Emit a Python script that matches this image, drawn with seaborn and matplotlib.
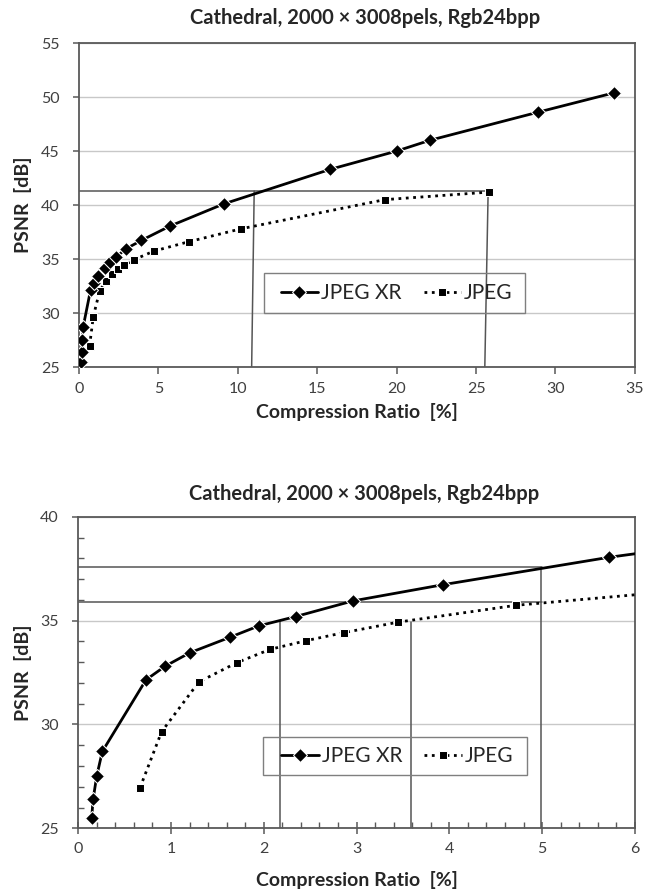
import matplotlib
matplotlib.use('Agg')
import matplotlib.pyplot as plt
import seaborn as sns
import pandas as pd
from matplotlib.patches import Rectangle
from matplotlib.ticker import MultipleLocator

# compression ratio [%] and PSNR [dB]
xr_ratio = [0.144, 0.16, 0.198, 0.259, 0.73, 0.934, 1.20, 1.635, 1.947, 2.346, 2.96,
            3.93, 5.72, 9.1, 15.8, 20.0, 22.1, 28.9, 33.7]
xr_psnr = [25.5, 26.4, 27.5, 28.7, 32.15, 32.8, 33.45, 34.2, 34.75, 35.2, 35.95,
           36.73, 38.05, 40.1, 43.3, 45.0, 46.0, 48.6, 50.4]
jpeg_ratio = [0.665, 0.898, 1.30, 1.71, 2.07, 2.46, 2.86, 3.45, 4.72, 6.9, 10.2, 19.25, 25.8]
jpeg_psnr = [26.95, 29.65, 32.05, 32.98, 33.62, 34.04, 34.42, 34.93, 35.74, 36.6, 37.8, 40.5, 41.2]

title = 'Cathedral, 2000 × 3008pels, Rgb24bpp'

# guide lines drawn on each chart: (x0, y0, x1, y1)
top_guides = [(0, 41.3, 25.76, 41.3), (11.03, 41.3, 10.87, 25), (25.76, 41.3, 25.55, 25)]
bottom_guides = [(0, 37.6, 5.0, 37.6), (0, 35.9, 5.0, 35.9),
                 (2.17, 35.0, 2.17, 25), (3.59, 34.95, 3.59, 25), (4.99, 37.6, 4.99, 25)]

xr = pd.DataFrame({'ratio': xr_ratio, 'psnr': xr_psnr})
jp = pd.DataFrame({'ratio': jpeg_ratio, 'psnr': jpeg_psnr})

sns.set_theme(style='white')
plt.rcParams['font.family'] = ['Lato', 'DejaVu Sans']

fig = plt.figure(figsize=(6.54, 8.9), dpi=100)
ax1 = fig.add_axes([0.1208, 0.5876, 0.850, 0.364])
ax2 = fig.add_axes([0.1197, 0.0693, 0.851, 0.350])

spine_col = '#595959'


def draw(ax, xlim, ylim, xstep, ystep, guides, leg_box, minor, xlabelpad, tpad):
    for g in guides:
        ax.plot([g[0], g[2]], [g[1], g[3]], color='#555555', lw=1.1, zorder=2)
    sns.lineplot(data=xr, x='ratio', y='psnr', ax=ax, sort=False, color='black',
                 marker='D', markersize=7, lw=2.0, label='JPEG XR', zorder=4)
    sns.lineplot(data=jp, x='ratio', y='psnr', ax=ax, sort=False, color='black',
                 marker='s', markersize=6, lw=2.0, ls=':', label='JPEG', zorder=3)
    ax.set_xlim(*xlim)
    ax.set_ylim(*ylim)
    ax.xaxis.set_major_locator(MultipleLocator(xstep))
    ax.yaxis.set_major_locator(MultipleLocator(ystep))
    ax.grid(axis='y', color='#c8c8c8', lw=1.0)
    ax.set_axisbelow(True)
    for s in ax.spines.values():
        s.set_color(spine_col)
        s.set_linewidth(1.3)
    ax.tick_params(axis='both', which='major', colors=spine_col, labelcolor='#404040',
                   labelsize=11.5, length=5, width=1.1, bottom=True, left=True)
    ax.tick_params(axis='y', which='major', length=4, pad=10)
    ax.tick_params(axis='x', which='major', pad=6)
    if minor:
        ax.xaxis.set_minor_locator(MultipleLocator(0.2))
        ax.yaxis.set_minor_locator(MultipleLocator(1))
        ax.tick_params(axis='both', which='minor', direction='in', length=4, width=1.0,
                       colors=spine_col, bottom=True, left=True)
        ax.tick_params(axis='x', which='major', direction='inout', length=8)
    ax.set_title(title, fontsize=14.5, fontweight='bold', pad=tpad, x=0.514)
    ax.set_xlabel('Compression Ratio  [%]', fontsize=14, fontweight='bold', labelpad=xlabelpad)
    ax.set_ylabel('PSNR  [dB]', fontsize=14, fontweight='bold', labelpad=6)
    # legend box frame, legend entries centred inside it
    x0, y0, w, h = leg_box
    ax.add_patch(Rectangle((x0, y0), w, h, transform=ax.transAxes, fill=False,
                           edgecolor='#7f7f7f', lw=1.0, zorder=5))
    ax.legend(loc='center', bbox_to_anchor=(x0 + w / 2 + 0.004, y0 + h / 2), ncol=2,
              fontsize=15, frameon=False, handlelength=1.8, handletextpad=0.15,
              columnspacing=1.05, borderpad=0.0, borderaxespad=0)


draw(ax1, (0, 35), (25, 55), 5, 5, top_guides, (0.333, 0.167, 0.469, 0.123), False, 5, 14)
draw(ax2, (0, 6), (25, 40), 1, 5, bottom_guides, (0.332, 0.171, 0.475, 0.122), True, 11, 12)

fig.savefig('out.png', dpi=100)
